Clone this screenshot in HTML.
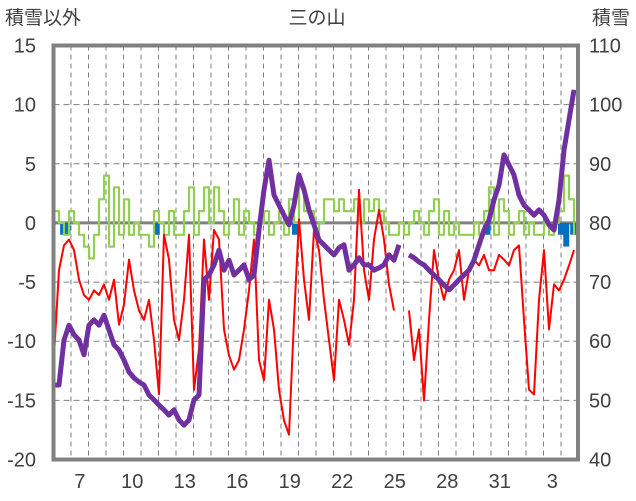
<!DOCTYPE html>
<html><head><meta charset="utf-8">
<style>
body{margin:0;background:#fff;}
svg{display:block;font-family:"Liberation Sans","Noto Sans CJK JP",sans-serif;}
</style></head>
<body>
<svg id="chart" width="636" height="501" viewBox="0 0 636 501" xmlns="http://www.w3.org/2000/svg">
<text x="317" y="24" font-size="19" fill="#404040" text-anchor="middle">三の山</text>
<text x="5" y="24" font-size="19" fill="#404040">積雪以外</text>
<text x="630" y="24" font-size="19" fill="#404040" text-anchor="end">積雪</text>
<g id="grid"></g>
<g id="bars"></g>
<g id="series"></g>
<g id="axes"></g>
</svg>
<script>
const dayLabels = ["7","10","13","16","19","22","25","28","31","3"];
const dayLabelIndex = [1,4,7,10,13,16,19,22,25,28];
const leftTicks = [15,10,5,0,-5,-10,-15,-20];
const rightTicks = [110,100,90,80,70,60,50,40];
const sampleStartDay = 1/35;
const sampleStepDays = 2/7;
const redY = [355,270,245,240,250,280,295,300,290,295,285,300,280,325,305,260,290,310,320,300,340,395,235,260,320,340,300,235,390,350,240,300,230,240,330,355,370,360,330,290,240,360,380,300,330,390,420,435,320,220,280,320,230,250,300,340,380,300,320,345,300,190,270,300,240,210,240,285,310,null,null,310,360,330,400,320,250,280,300,280,270,250,300,270,260,265,255,270,270,255,260,265,250,245,320,390,395,300,250,330,285,290,280,265,250];
const purpleY = [385,385,340,325,335,340,355,325,320,325,315,330,345,350,360,372,378,382,385,395,400,405,410,415,410,420,425,420,400,395,280,275,265,250,270,260,275,270,265,280,275,230,190,160,195,205,215,225,205,175,190,210,225,240,245,250,255,248,245,270,265,258,265,265,270,268,265,255,260,245,null,255,258,262,265,270,275,280,285,290,285,280,275,270,260,245,230,220,200,185,155,165,175,195,205,210,215,210,215,225,230,200,150,120,90];
const greenVals = [1,0,-1,1,0,-1,-2,-3,-1,2,4,-2,3,-1,2,-1,0,-1,-1,-2,1,0,-1,1,-1,-1,1,3,-1,1,3,0,3,1,-1,0,2,-1,1,0,-1,0,1,-1,0,1,-1,2,0,3,1,1,-1,0,2,2,1,2,1,1,2,0,2,1,2,1,0,-1,-1,0,-1,0,1,0,-1,1,2,-1,1,-1,0,-1,-1,-1,0,-1,1,3,-1,2,1,-1,0,1,-1,0,-1,-1,0,-1,0,1,4,2,-1];
const barDays = [0.55,0.8,5.9,13.8,24.8,29.0,29.3,29.7];
const barVals = [-1,-1,-1,-1,-1,-1,-2,-1];

const X0=53.5, DW=17.5, YT=45.5, YB=459.5;
const xDay = d => X0 + d*DW;
const yL = v => YT + (15 - v)*(YB-YT)/35;
const yR = v => YT + (110 - v)*(YB-YT)/70;
const redVals = redY.map(y => y===null?null:+((223-y)/11.83).toFixed(1));
const purpleVals = purpleY.map(y => y===null?null:+(40+(459.5-y)/5.914).toFixed(1));

const NS="http://www.w3.org/2000/svg";
function mk(tag, parent, attrs){const e=document.createElementNS(NS,tag);for(const k in attrs)e.setAttribute(k,attrs[k]);parent.appendChild(e);return e;}
const grid=document.getElementById('grid'), axes=document.getElementById('axes'), bars=document.getElementById('bars'), series=document.getElementById('series');

for(let i=1;i<30;i++){
  const l=mk('line',grid,{x1:xDay(i),x2:xDay(i),y1:YT,y2:YB,stroke:'#808080','stroke-width':1,'stroke-dasharray':'5,4'});
  
  
}
leftTicks.forEach((v,i)=>{
  if(v!==0 && v!==15 && v!==-20){
    const l=mk('line',grid,{x1:X0,x2:578,y1:yL(v),y2:yL(v),stroke:'#808080','stroke-width':1,'stroke-dasharray':'6,4'});
    
    
  }
  const t=mk('text',axes,{x:36,y:yL(v)+7,'font-size':20,fill:'#404040','text-anchor':'end'});
  t.textContent=v;
  
  
  const r=mk('text',axes,{x:589,y:yL(v)+7,'font-size':20,fill:'#404040'});
  r.textContent=rightTicks[i];
  
  
});
dayLabels.forEach((s,i)=>{
  const t=mk('text',axes,{x:xDay(dayLabelIndex[i]+0.5),y:488,'font-size':20,fill:'#404040','text-anchor':'middle'});
  t.textContent=s;
  
  
});
const zl=mk('line',grid,{x1:X0,x2:578,y1:yL(0),y2:yL(0),stroke:'#808080','stroke-width':3});



barDays.forEach((d,i)=>{
  const y0=yL(0), y1=yL(barVals[i]);
  const b=mk('rect',bars,{x:xDay(d)-3,y:y0,width:6,height:y1-y0,fill:'#0070c0'});
  
  
});

function pathFrom(vals, yf, step){
  let d='', pen=false;
  vals.forEach((v,i)=>{
    if(v===null){pen=false;return;}
    const x=xDay(sampleStartDay+i*sampleStepDays), y=yf(v);
    if(pen && step){ d+='H'+x.toFixed(1)+' V'+y.toFixed(1)+' '; }
    else d+=(pen?'L':'M')+x.toFixed(1)+' '+y.toFixed(1)+' ';
    pen=true;
  });
  return d;
}
const g=mk('path',series,{d:pathFrom(greenVals,yL,true),fill:'none',stroke:'#92d050','stroke-width':2.2,'stroke-linejoin':'round'});


const r=mk('path',series,{d:pathFrom(redVals,yL,false),fill:'none',stroke:'#ff0000','stroke-width':2,'stroke-linejoin':'round'});


const p=mk('path',series,{d:pathFrom(purpleVals,yR,false),fill:'none',stroke:'#7030a0','stroke-width':5,'stroke-linejoin':'round'});



const fr=mk('rect',axes,{x:X0,y:YT,width:578-X0,height:YB-YT,fill:'none',stroke:'#808080','stroke-width':4});


</script>
</body></html>
